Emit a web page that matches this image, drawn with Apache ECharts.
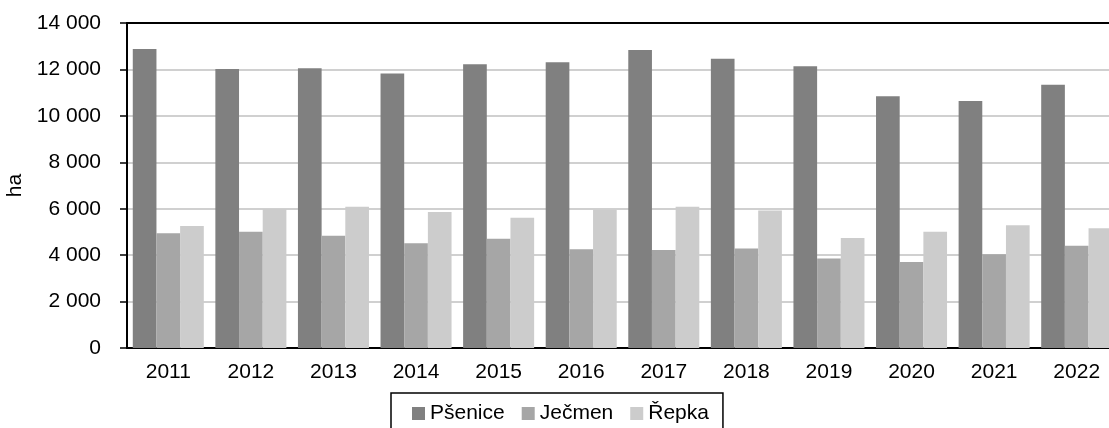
<!DOCTYPE html>
<html>
<head>
<meta charset="utf-8">
<script src="https://cdn.jsdelivr.net/npm/echarts@6/dist/echarts.min.js"></script>
<style>
  html, body { margin: 0; padding: 0; background: #fff; }
  #chart { width: 1109px; height: 428px; }
</style>
</head>
<body>
<div id="chart"></div>
<script>
// roky
const years = ['2011', '2012', '2013', '2014', '2015', '2016', '2017', '2018', '2019', '2020', '2021', '2022'];
// plochy v ha
const psenice = [12880, 12020, 12050, 11820, 12220, 12310, 12840, 12460, 12140, 10840, 10640, 11340];
const jecmen = [4940, 5010, 4840, 4510, 4710, 4250, 4220, 4290, 3860, 3710, 4040, 4410];
const repka = [5260, 5990, 6090, 5860, 5610, 5960, 6090, 5920, 4740, 5010, 5290, 5160];
const seriesNames = ['Pšenice', 'Ječmen', 'Řepka'];
const seriesColors = ['#808080', '#a6a6a6', '#cccccc'];

const font = 'Liberation Sans, Arial, sans-serif';

function fmt(v) {
  return String(v).replace(/\B(?=(\d{3})+(?!\d))/g, ' ');
}

const chart = echarts.init(document.getElementById('chart'));
chart.setOption({
  animation: false,
  color: seriesColors,
  textStyle: { fontFamily: font, color: '#000' },
  grid: {
    left: 127, top: 23, right: -9, bottom: 80,
    outerBoundsMode: 'none',
    containLabel: false
  },
  legend: {
    data: seriesNames,
    left: 391, top: 393,
    padding: [10, 14, 10, 21],
    itemWidth: 13, itemHeight: 13, itemGap: 17,
    borderColor: '#000', borderWidth: 1.5,
    icon: 'rect',
    textStyle: { fontSize: 21, fontFamily: font, color: '#000' }
  },
  xAxis: [
    {
      type: 'category',
      data: years,
      axisLine: { lineStyle: { color: '#000', width: 2 } },
      axisTick: { length: 6, lineStyle: { color: '#000', width: 1.5 } },
      axisLabel: { fontSize: 21, color: '#000', margin: 14, fontFamily: font }
    },
    {
      // horní okraj grafu
      type: 'category',
      data: years,
      position: 'top',
      axisLine: { show: true, lineStyle: { color: '#000', width: 2 } },
      axisTick: { show: false },
      axisLabel: { show: false }
    }
  ],
  yAxis: {
    type: 'value',
    min: 0, max: 14000, interval: 2000,
    name: 'ha',
    nameLocation: 'middle',
    nameGap: 101,
    nameRotate: 90,
    nameTextStyle: { fontSize: 21, color: '#000', fontFamily: font },
    axisLine: { show: true, lineStyle: { color: '#000', width: 2 } },
    axisTick: { show: true, length: 7, lineStyle: { color: '#000', width: 1.5 } },
    axisLabel: { fontSize: 21, color: '#000', margin: 26, fontFamily: font, formatter: fmt },
    splitLine: { lineStyle: { color: '#c0c0c0', width: 1.5 } }
  },
  series: [
    { name: seriesNames[0], type: 'bar', data: psenice, barGap: '0%', barCategoryGap: '14%' },
    { name: seriesNames[1], type: 'bar', data: jecmen, barGap: '0%', barCategoryGap: '14%' },
    { name: seriesNames[2], type: 'bar', data: repka, barGap: '0%', barCategoryGap: '14%' }
  ]
});
</script>
</body>
</html>
